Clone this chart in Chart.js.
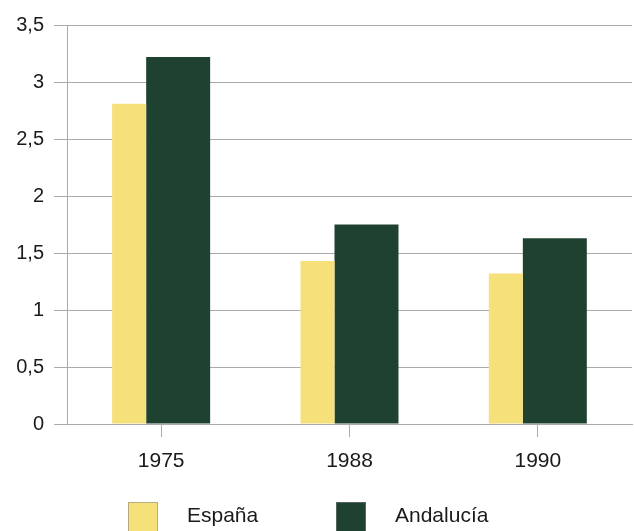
<!DOCTYPE html>
<html>
<head>
<meta charset="utf-8">
<script src="https://cdn.jsdelivr.net/npm/chart.js@4/dist/chart.umd.min.js"></script>
<style>
  html, body { margin: 0; padding: 0; background: #ffffff; }
  canvas { display: block; }
</style>
</head>
<body>
<canvas id="c" width="634" height="531"></canvas>
<script>
// ---- data ----
const categories = ['1975', '1988', '1990'];
const espana = [2.81, 1.43, 1.32];
const andalucia = [3.22, 1.75, 1.63];
const seriesNames = ['España', 'Andalucía'];
const yTickValues = [0, 0.5, 1, 1.5, 2, 2.5, 3, 3.5];
const yTickLabels = ['0', '0,5', '1', '1,5', '2', '2,5', '3', '3,5'];

const colEsp = '#F5E07A';
const colAnd = '#1F4230';
const gridCol = '#ababab';
const textCol = '#1a1a1a';
const FONT = 'Liberation Sans, Arial, Helvetica, sans-serif';

// Legend drawn on the chart canvas from the datasets' labels and colours
const bottomLegend = {
  id: 'bottomLegend',
  afterDraw(chart, args, opts) {
    const ctx = chart.ctx;
    ctx.save();
    ctx.font = opts.fontSize + 'px ' + FONT;
    ctx.textBaseline = 'middle';
    ctx.textAlign = 'left';
    chart.data.datasets.forEach((ds, i) => {
      const bx = opts.itemX[i];
      ctx.fillStyle = ds.backgroundColor;
      ctx.fillRect(bx, opts.boxTop, opts.boxSize, opts.boxSize);
      ctx.strokeStyle = 'rgba(130,130,130,0.55)';
      ctx.lineWidth = 1;
      ctx.strokeRect(bx + 0.5, opts.boxTop + 0.5, opts.boxSize - 1, opts.boxSize - 1);
      ctx.fillStyle = textCol;
      ctx.fillText(ds.label, bx + opts.boxSize + opts.gap, opts.textY);
    });
    ctx.restore();
  }
};

new Chart(document.getElementById('c'), {
  type: 'bar',
  data: {
    labels: categories,
    datasets: [
      {
        label: seriesNames[0],
        data: espana,
        backgroundColor: colEsp,
        borderWidth: 0,
        categoryPercentage: 0.68,
        barPercentage: 0.531
      },
      {
        label: seriesNames[1],
        data: andalucia,
        backgroundColor: colAnd,
        borderWidth: 0,
        categoryPercentage: 0.361,
        barPercentage: 1.882
      }
    ]
  },
  plugins: [bottomLegend],
  options: {
    responsive: false,
    devicePixelRatio: 1,
    animation: false,
    layout: { padding: { left: 0, right: 2, top: 25, bottom: 47 } },
    plugins: {
      tooltip: { enabled: false },
      legend: { display: false },
      bottomLegend: {
        itemX: [128, 336],
        boxTop: 502,
        boxSize: 30,
        gap: 29,
        textY: 516,
        fontSize: 21
      }
    },
    scales: {
      x: {
        offset: true,
        grid: {
          offset: false,
          drawOnChartArea: false,
          drawTicks: true,
          tickLength: 13,
          color: gridCol
        },
        border: { display: true, color: gridCol },
        ticks: {
          color: textCol,
          padding: 12,
          maxRotation: 0,
          font: { family: FONT, size: 21 }
        },
        afterFit: function (s) { s.height = 60; }
      },
      y: {
        min: 0,
        max: 3.5,
        afterBuildTicks: function (s) { s.ticks = yTickValues.map(v => ({ value: v })); },
        grid: {
          color: gridCol,
          tickLength: 13,
          drawTicks: true
        },
        border: { display: true, color: gridCol },
        ticks: {
          color: textCol,
          padding: 10,
          font: { family: FONT, size: 20 },
          callback: function (v) {
            const i = yTickValues.indexOf(v);
            return i >= 0 ? yTickLabels[i] : '';
          }
        },
        afterFit: function (s) { s.width = 67; }
      }
    }
  }
});
</script>
</body>
</html>
